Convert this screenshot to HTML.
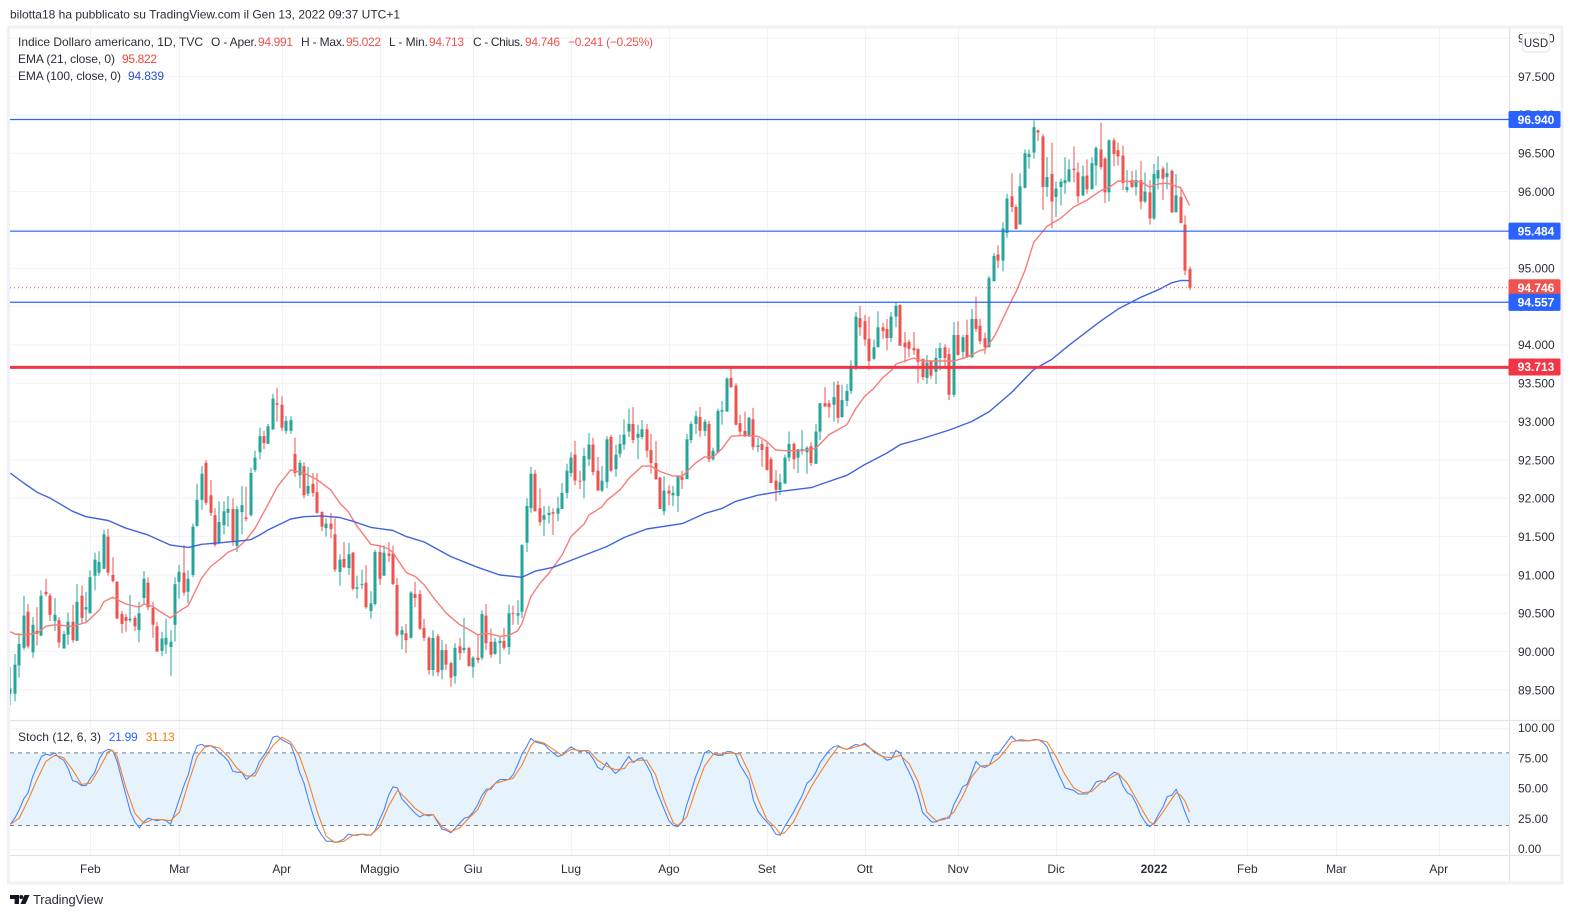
<!DOCTYPE html>
<html lang="it">
<head>
<meta charset="utf-8">
<title>Indice Dollaro americano chart</title>
<style>
html,body{margin:0;padding:0;background:#fff;width:1574px;height:918px;overflow:hidden}
svg{display:block;font-family:"Liberation Sans",sans-serif}
</style>
</head>
<body>
<svg id="chart" xmlns="http://www.w3.org/2000/svg" width="1574" height="918" viewBox="0 0 1574 918">
  <defs><clipPath id="plot-clip"><rect x="10" y="28" width="1500" height="827"/></clipPath></defs>
  <text x="10" y="18.5" font-size="12" fill="#2a2e39" textLength="390">bilotta18 ha pubblicato su TradingView.com il Gen 13, 2022 09:37 UTC+1</text>
  <rect x="8.5" y="27" width="1553.5" height="856" fill="#fff" stroke="#f0f1f6" stroke-width="3"/>
  <g id="grid"></g>
  <rect id="stoch-band" fill="#e3f2fd"/>
  <g id="stoch-lines"></g>
  <g clip-path="url(#plot-clip)">
    <g id="candles"></g>
    <polyline id="ema21" fill="none" stroke="#f77c7a" stroke-width="1.4" stroke-linejoin="round"/>
    <polyline id="ema100" fill="none" stroke="#3f64dc" stroke-width="1.4" stroke-linejoin="round"/>
    <polyline id="stoch-k" fill="none" stroke="#4a86f7" stroke-width="1.1" stroke-linejoin="round"/>
    <polyline id="stoch-d" fill="none" stroke="#f5812f" stroke-width="1.1" stroke-linejoin="round"/>
    <g id="levels"></g>
  </g>
  <line x1="10" x2="1560" y1="720.5" y2="720.5" stroke="#e0e3eb" stroke-width="1.2"/>
  <line x1="10" x2="1560" y1="855.5" y2="855.5" stroke="#e0e3eb" stroke-width="1.2"/>
  <line x1="1509.5" x2="1509.5" y1="28" y2="881" stroke="#e0e3eb" stroke-width="1.2"/>
  <g id="price-ticks" font-size="12" fill="#2a2e39"></g>
  <g id="stoch-ticks" font-size="12" fill="#2a2e39"></g>
  <g id="time-ticks" font-size="12" fill="#2a2e39" text-anchor="middle"></g>
  <g id="tags"></g>
  <g>
    <rect x="1522.5" y="33" width="27" height="19" rx="3" fill="#fff" stroke="#e0e3eb"/>
    <text x="1536" y="47" font-size="11.5" fill="#2a2e39" text-anchor="middle">USD</text>
  </g>
  <g font-size="12" fill="#2a2e39">
    <text x="18" y="46" textLength="185">Indice Dollaro americano, 1D, TVC</text>
    <text x="211" y="46" textLength="46">O - Aper.</text>
    <text x="258" y="46" fill="#ef5350" textLength="35">94.991</text>
    <text x="301" y="46" textLength="44">H - Max.</text>
    <text x="346" y="46" fill="#ef5350" textLength="35">95.022</text>
    <text x="389" y="46" textLength="39">L - Min.</text>
    <text x="429" y="46" fill="#ef5350" textLength="35">94.713</text>
    <text x="473" y="46" textLength="50">C - Chius.</text>
    <text x="525" y="46" fill="#ef5350" textLength="35">94.746</text>
    <text x="568" y="46" fill="#ef5350" textLength="85">−0.241 (−0.25%)</text>
    <text x="18" y="63" textLength="97">EMA (21, close, 0)</text>
    <text x="122" y="63" fill="#f44336" textLength="35">95.822</text>
    <text x="18" y="80" textLength="103">EMA (100, close, 0)</text>
    <text x="128" y="80" fill="#2a52d4" textLength="36">94.839</text>
    <text x="18" y="741" textLength="83">Stoch (12, 6, 3)</text>
    <text x="108.7" y="741" fill="#2962ff" textLength="29">21.99</text>
    <text x="145.7" y="741" fill="#f57c00" textLength="29">31.13</text>
  </g>
  <g fill="#131722">
    <polygon points="10,895 19,895 19,904 14.6,904 14.6,899 10,899"/>
    <circle cx="21.3" cy="897" r="2"/>
    <polygon points="24.5,895 29.5,895 25.5,904 20.5,904"/>
  </g>
  <text x="33" y="904" font-size="13" fill="#2a2e39" textLength="70">TradingView</text>
</svg>
<script>
const opens=[89.45,89.45,89.82,90.05,90.52,89.99,90.27,90.21,90.78,90.73,
90.40,90.41,90.04,90.22,90.39,90.14,90.73,90.55,90.50,90.99,
91.03,91.08,91.50,91.00,90.91,90.49,90.45,90.41,90.44,90.28,
90.70,90.90,90.57,90.33,90.01,90.09,90.06,90.35,90.91,91.03,
90.78,91.00,91.64,91.98,92.46,92.04,91.78,91.42,91.65,91.81,
91.86,91.38,91.82,91.75,91.78,92.37,92.60,92.81,92.71,92.90,
93.24,93.22,92.88,92.88,92.58,92.30,92.42,92.06,92.19,92.08,
91.82,91.61,91.67,91.53,91.04,91.21,91.09,91.29,90.82,90.87,
90.90,90.53,90.62,91.30,90.99,91.28,91.28,90.87,90.22,90.24,
90.18,90.75,90.75,90.31,90.18,89.76,90.20,89.76,90.02,89.85,
89.68,90.07,90.02,90.05,89.80,89.92,89.92,90.47,90.13,89.97,
90.11,90.14,90.06,90.50,90.47,90.52,91.42,91.87,92.32,91.87,
91.72,91.78,91.82,91.80,91.86,92.07,92.33,92.57,92.23,92.23,
92.51,92.70,92.36,92.10,92.21,92.80,92.38,92.58,92.70,92.87,
92.97,92.79,92.80,92.90,92.63,92.46,92.27,91.83,92.10,92.04,
92.03,92.28,92.25,92.76,92.97,93.06,92.88,92.97,92.51,92.60,
93.13,93.13,93.57,93.47,92.98,92.88,92.81,93.03,92.67,92.71,
92.67,92.51,92.23,92.11,92.19,92.53,92.71,92.53,92.62,92.60,
92.68,92.45,92.87,93.24,93.24,93.22,93.48,93.06,93.27,93.40,
93.70,94.35,94.31,94.08,93.82,93.97,94.23,94.21,94.09,94.37,
94.52,94.03,94.04,93.96,93.95,93.82,93.57,93.79,93.65,93.83,
93.97,93.88,93.35,94.13,93.91,94.13,93.84,94.34,94.25,94.09,
93.97,94.83,95.18,95.10,95.46,95.94,95.80,95.57,96.05,96.45,
96.51,96.80,96.72,96.06,96.23,95.93,96.06,96.11,96.13,96.30,
96.25,95.95,96.21,96.03,96.34,96.55,96.43,95.99,96.67,96.54,
96.47,96.02,96.15,96.06,96.15,95.87,95.99,95.65,96.17,96.30,
96.19,96.27,95.73,95.93,95.57,94.991];
const closes=[89.52,89.83,90.10,90.47,90.07,90.35,90.23,90.73,90.75,90.48,
90.48,90.12,90.23,90.39,90.15,90.65,90.44,90.58,90.97,91.20,
91.17,91.53,91.03,90.92,90.43,90.36,90.40,90.43,90.33,90.50,
90.95,90.58,90.35,90.00,90.17,90.18,90.13,90.88,91.04,90.77,
90.95,91.63,91.98,92.32,91.94,91.81,91.39,91.69,91.83,91.86,
91.43,91.86,91.91,91.73,92.33,92.53,92.81,92.72,92.94,93.30,
93.22,92.92,93.01,93.02,92.33,92.46,92.04,92.16,92.07,91.81,
91.63,91.67,91.60,91.07,91.20,91.10,91.27,90.82,90.84,90.88,
90.58,90.63,91.30,90.95,91.29,91.25,90.88,90.22,90.28,90.15,
90.77,90.70,90.30,90.18,89.76,90.18,89.73,90.02,89.83,89.66,
90.05,89.98,90.05,89.81,89.92,89.89,90.49,90.11,89.96,90.13,
90.14,90.05,90.50,90.49,90.50,91.39,91.90,92.32,91.83,91.69,
91.78,91.81,91.80,91.87,92.07,92.36,92.53,92.23,92.22,92.55,
92.70,92.34,92.10,92.23,92.77,92.36,92.57,92.71,92.83,92.97,
92.76,92.84,92.90,92.62,92.46,92.25,91.86,92.10,92.06,92.07,
92.29,92.24,92.77,92.97,93.07,92.88,93.00,92.51,92.62,93.14,
93.15,93.56,93.45,92.96,92.87,92.81,93.05,92.67,92.69,92.63,
92.37,92.20,92.11,92.21,92.53,92.71,92.51,92.64,92.64,92.66,
92.46,92.87,93.24,93.20,93.19,93.32,93.05,93.28,93.40,93.73,
94.37,94.23,94.07,93.79,93.97,94.23,94.18,94.09,94.37,94.51,
93.99,93.97,93.95,93.93,93.78,93.58,93.77,93.60,93.83,93.96,
93.83,93.35,94.13,93.87,94.10,93.84,94.34,94.21,94.05,93.97,
94.87,95.16,95.10,95.52,95.91,95.80,95.51,96.07,96.50,96.49,
96.84,96.77,96.06,96.19,95.87,96.04,96.13,96.15,96.29,96.28,
95.94,96.20,96.03,96.37,96.57,96.32,95.99,96.67,96.49,96.46,
96.11,96.06,96.06,96.15,95.87,96.00,95.65,96.23,96.28,96.17,
96.24,95.73,95.95,95.59,94.97,94.746];
const highs=[89.80,89.97,90.24,90.73,90.62,90.45,90.58,90.80,90.95,90.76,
90.70,90.45,90.27,90.51,90.61,90.88,90.86,90.78,91.06,91.29,
91.31,91.59,91.60,91.23,90.92,90.53,90.49,90.74,90.47,90.65,
91.05,90.97,90.65,90.39,90.26,90.43,90.28,90.97,91.13,91.39,
91.06,91.67,92.19,92.42,92.50,92.24,91.87,91.96,91.96,92.03,
92.00,91.90,92.16,92.15,92.40,92.62,92.92,92.88,92.97,93.36,
93.44,93.33,93.07,93.07,92.79,92.50,92.47,92.41,92.33,92.33,
91.83,91.74,91.81,91.74,91.27,91.43,91.42,91.30,90.99,91.07,
91.13,90.79,91.33,91.39,91.39,91.43,91.38,90.96,90.33,90.36,
90.79,90.91,90.80,90.43,90.20,90.28,90.23,90.15,90.10,89.87,
90.11,90.18,90.44,90.06,89.94,90.23,90.54,90.62,90.30,90.18,
90.19,90.31,90.61,90.60,90.67,91.40,92.00,92.41,92.37,92.13,
91.90,91.90,91.87,92.02,92.20,92.45,92.60,92.75,92.36,92.66,
92.85,92.79,92.54,92.42,92.81,92.83,92.70,92.83,93.03,93.17,
93.19,92.96,93.02,92.97,92.84,92.75,92.28,92.29,92.17,92.16,
92.30,92.36,92.84,93.00,93.14,93.19,93.03,93.01,92.66,93.17,
93.27,93.58,93.73,93.50,93.09,93.13,93.06,93.18,92.79,92.76,
92.73,92.54,92.37,92.32,92.57,92.87,92.73,92.64,92.89,92.68,
92.73,92.97,93.24,93.45,93.28,93.52,93.53,93.48,93.49,93.80,
94.43,94.51,94.39,94.37,94.07,94.44,94.29,94.34,94.43,94.55,
94.53,94.17,94.07,94.17,93.95,93.82,93.87,93.80,93.96,94.03,
94.01,93.96,94.30,94.31,94.13,94.33,94.47,94.63,94.34,94.16,
94.90,95.20,95.30,95.60,95.97,96.24,95.83,96.24,96.55,96.55,
96.93,96.81,96.75,96.45,96.64,96.13,96.17,96.45,96.42,96.59,
96.38,96.34,96.42,96.45,96.59,96.90,96.45,96.68,96.70,96.64,
96.60,96.28,96.27,96.28,96.40,96.25,96.15,96.36,96.46,96.33,
96.38,96.29,96.23,96.06,95.69,95.022];
const lows=[89.30,89.35,89.66,90.02,90.04,89.92,90.08,90.20,90.72,90.40,
90.27,90.05,90.04,90.09,90.12,90.14,90.36,90.37,90.50,90.80,
90.99,91.08,90.99,90.90,90.43,90.24,90.26,90.38,90.27,90.12,
90.62,90.54,90.18,90.00,89.94,89.97,89.68,90.13,90.69,90.73,
90.63,90.97,91.63,91.85,91.91,91.77,91.37,91.40,91.53,91.63,
91.38,91.30,91.53,91.70,91.76,92.34,92.51,92.64,92.71,92.89,
93.00,92.88,92.84,92.84,92.28,92.13,92.00,92.03,92.02,91.80,
91.57,91.50,91.48,91.04,90.86,91.09,91.00,90.80,90.69,90.82,
90.56,90.43,90.60,90.87,90.99,91.17,90.87,90.19,90.03,89.98,
90.17,90.58,90.28,90.14,89.70,89.68,89.68,89.64,89.76,89.54,
89.58,89.89,89.98,89.81,89.66,89.85,89.89,90.02,89.92,89.96,
89.84,90.02,89.96,90.35,90.35,90.44,91.30,91.81,91.83,91.64,
91.51,91.67,91.52,91.70,91.86,92.00,92.28,92.17,92.12,92.00,
92.42,92.30,92.10,92.08,92.13,92.34,92.28,92.53,92.63,92.80,
92.72,92.51,92.77,92.53,92.32,92.24,91.86,91.78,91.91,91.90,
91.82,92.12,92.25,92.72,92.84,92.80,92.81,92.47,92.49,92.60,
92.96,93.13,93.44,92.95,92.81,92.80,92.80,92.63,92.60,92.41,
92.36,92.20,91.96,92.04,92.19,92.48,92.38,92.33,92.57,92.32,
92.42,92.45,92.76,93.19,93.05,93.00,92.98,93.05,93.20,93.36,
93.67,94.12,93.99,93.67,93.80,93.97,94.08,93.93,94.04,94.23,
93.99,93.77,93.84,93.87,93.50,93.54,93.49,93.56,93.49,93.67,
93.70,93.28,93.32,93.86,93.83,93.83,93.83,94.17,94.01,93.88,
93.97,94.83,95.00,94.96,95.40,95.73,95.51,95.57,96.04,96.30,
96.43,96.66,95.76,95.93,95.52,95.67,95.82,95.97,96.12,96.12,
95.85,95.94,95.97,96.03,96.08,96.29,95.85,95.87,96.33,96.34,
96.02,95.99,96.04,95.95,95.77,95.85,95.57,95.63,96.03,95.89,
96.03,95.72,95.73,95.59,94.91,94.713];

const ema21Bars=[0,1,3,6,8,10,14,17,20,21,23,26,29,30,32,34,36,38,40,43,45,47,49,51,53,55,58,60,63,66,69,72,74,76,78,81,83,85,86,89,91,93,95,98,101,103,105,107,110,112,114,115,117,119,121,124,126,129,130,133,134,137,139,142,144,146,149,151,154,156,158,160,162,165,168,170,172,174,178,181,184,188,190,192,194,196,198,199,203,205,209,212,215,218,219,221,222,225,226,228,230,231,233,236,239,242,245,247,249,252,254,256,258,260,263,265];
const ema21Values=[90.26,90.23,90.22,90.24,90.33,90.35,90.33,90.38,90.54,90.65,90.71,90.62,90.58,90.62,90.59,90.51,90.44,90.53,90.60,90.96,91.11,91.20,91.30,91.35,91.46,91.61,91.93,92.15,92.37,92.33,92.24,92.11,91.94,91.82,91.63,91.40,91.38,91.34,91.29,91.03,90.98,90.87,90.71,90.50,90.35,90.29,90.22,90.24,90.20,90.21,90.27,90.37,90.72,90.89,91.02,91.26,91.50,91.67,91.78,91.89,91.97,92.11,92.26,92.42,92.42,92.35,92.29,92.29,92.46,92.54,92.54,92.65,92.81,92.82,92.81,92.74,92.63,92.62,92.62,92.65,92.83,92.96,93.17,93.33,93.43,93.57,93.67,93.75,93.83,93.79,93.79,93.79,93.84,93.93,93.94,94.10,94.21,94.58,94.69,94.97,95.34,95.41,95.55,95.65,95.80,95.89,96.01,96.06,96.14,96.13,96.13,96.06,96.10,96.11,96.05,95.822];
const ema100Bars=[0,3,6,9,14,17,22,26,31,36,40,43,47,51,54,56,58,63,66,70,74,77,81,86,89,93,99,105,110,115,118,122,126,130,134,138,143,151,156,160,163,168,173,180,184,188,192,197,200,205,211,216,220,225,230,234,238,245,249,254,258,261,263,265];
const ema100Values=[92.33,92.20,92.08,92.00,91.83,91.76,91.71,91.61,91.52,91.39,91.36,91.40,91.42,91.44,91.46,91.52,91.59,91.73,91.76,91.77,91.75,91.70,91.62,91.58,91.50,91.43,91.24,91.10,91.00,90.97,91.05,91.10,91.19,91.28,91.37,91.49,91.60,91.67,91.80,91.87,91.96,92.04,92.09,92.14,92.22,92.30,92.44,92.59,92.70,92.78,92.89,93.00,93.13,93.38,93.68,93.81,94.00,94.31,94.47,94.62,94.72,94.81,94.84,94.839];

const stochK=[21,26,33,42,47,60,69,77,79,78,
80,76,74,67,57,56,53,53,59,64,
75,81,83,82,73,59,45,31,23,18,
23,26,25,24,25,24,21,31,42,53,
62,77,86,87,85,86,84,80,77,73,
65,64,64,58,61,64,73,78,84,93,
94,91,89,87,77,64,55,41,29,18,
12,7,7,6,7,9,13,12,12,13,
12,12,16,25,33,45,52,51,42,38,
34,30,27,29,28,29,23,17,16,14,
18,22,26,27,31,37,45,50,50,55,
58,58,58,62,70,79,85,92,89,88,
87,83,80,77,78,82,85,83,81,82,
80,75,68,66,72,67,63,66,72,77,
72,75,76,70,63,51,42,33,24,20,
19,23,37,48,60,69,80,82,79,78,
78,81,81,79,70,64,58,41,32,27,
23,19,13,12,19,25,31,38,45,55,
58,64,72,77,82,85,86,84,83,85,
87,86,88,85,81,79,77,74,75,82,
80,71,64,56,45,31,27,23,23,25,
26,26,37,44,52,54,63,73,69,68,
70,78,79,84,89,94,90,90,90,90,
91,91,89,85,75,67,59,51,50,49,
46,46,46,50,56,57,56,61,64,63,
53,47,45,38,29,23,19,22,29,35,
44,45,50,41,31,21.99];
const stochDBars=[0,2,4,6,8,10,12,14,16,18,20,22,23,24,26,28,30,32,34,36,38,40,42,44,45,47,49,51,53,55,57,59,61,63,65,67,69,71,73,75,77,79,81,83,85,87,89,91,93,95,97,99,101,103,105,107,109,111,113,115,117,118,120,122,124,126,128,130,132,134,136,138,139,141,143,145,147,149,150,152,154,156,158,160,162,164,166,168,170,172,173,174,176,178,180,182,184,186,188,190,192,194,196,198,200,202,204,206,208,210,212,214,216,218,220,222,224,225,227,229,231,233,235,237,239,241,243,245,247,249,251,253,255,256,257,259,261,262,263,264,265];
const stochDValues=[21,26,41,58,73,78,76,66,54,55,67,81,82,77,51,30,22,25,25,24,31,55,77,86,86,84,77,67,61,61,75,86,93,89,77,56,31,11,6,7,12,13,12,19,36,49,42,34,29,29,19,15,18,26,33,48,55,57,59,70,86,90,88,83,78,83,82,82,74,69,66,67,72,74,74,62,40,22,20,27,49,69,79,79,80,79,64,42,25,18,13,14,23,38,52,64,75,85,83,85,87,82,77,76,78,71,56,31,24,25,31,44,60,69,70,75,84,89,91,90,91,89,77,62,51,47,48,55,59,63,55,42,29,23,21,31,42,47,45,40,31.13];

const priceTicks=[98,97.5,97,96.5,96,95.5,95,94.5,94,93.5,93,92.5,92,91.5,91,90.5,90,89.5];
const stochTicks=[100,75,50,25,0];
const stochLevels=[80,20];
const monthLabels=["Feb","Mar","Apr","Maggio","Giu","Lug","Ago","Set","Ott","Nov","Dic","2022","Feb","Mar","Apr"];
const monthBars=[18,38,61,83,104,126,148,170,192,213,235,257,278,298,321];
const blueLevels=[96.940,95.484,94.557];
const redLevel=93.713;
const lastClose=94.746;

const NS='http://www.w3.org/2000/svg';
const barX=i=>10.3+4.45*i;
const priceY=p=>76.6+(97.5-p)*76.67;
const stochY=v=>849.7-v*1.21;
const $=id=>document.getElementById(id);
function mk(parent,tag,attrs,text){
  const e=document.createElementNS(NS,tag);
  for(const k in attrs)e.setAttribute(k,attrs[k]);
  if(text!==undefined)e.textContent=text;
  parent.appendChild(e);
  return e;
}
const GRID='#f1f2f5';
monthBars.forEach(b=>{
  const x=Math.round(barX(b))+0.5;
  const l=mk($('grid'),'line',{x1:x,x2:x,y1:28,y2:855,stroke:GRID});
  
  
});
priceTicks.forEach(p=>{
  const y=priceY(p);
  const l=mk($('grid'),'line',{x1:10,x2:1509,y1:y,y2:y,stroke:GRID});
  
  
  const t=mk($('price-ticks'),'text',{x:1518,y:y+4.3},p.toFixed(3));
  
  
});
stochTicks.forEach(v=>{
  const y=stochY(v);
  const l=mk($('grid'),'line',{x1:10,x2:1509,y1:y,y2:y,stroke:GRID});
  
  
  const t=mk($('stoch-ticks'),'text',{x:1518,y:y+3.5},v.toFixed(2));
  
  
});
monthLabels.forEach((m,k)=>{
  const attrs={x:barX(monthBars[k]),y:873};
  if(m==='2022')attrs['font-weight']='bold';
  const t=mk($('time-ticks'),'text',attrs,m);
  
  
});
const band=$('stoch-band');
band.setAttribute('x',10);
band.setAttribute('width',1499.5);
band.setAttribute('y',stochY(stochLevels[0]));
band.setAttribute('height',stochY(stochLevels[1])-stochY(stochLevels[0]));
band.setAttribute('fill-opacity',0.9);
stochLevels.forEach(v=>{
  const l=mk($('stoch-lines'),'line',{x1:10,x2:1509,y1:stochY(v),y2:stochY(v),stroke:'#787b86','stroke-dasharray':'4 4'});
  
  
});
const UP='#26a69a',DOWN='#ef5350';
opens.forEach((o,i)=>{
  const c=closes[i],col=c>=o?UP:DOWN;
  const cx=Math.round(barX(i));
  const g=mk($('candles'),'g',{fill:col});
  
  
  mk(g,'rect',{x:cx-0.5,width:1,y:priceY(highs[i]),height:Math.max(0.5,priceY(lows[i])-priceY(highs[i]))});
  const top=priceY(Math.max(o,c)),bot=priceY(Math.min(o,c));
  mk(g,'rect',{x:cx-1.5,width:3,y:top,height:Math.max(1,bot-top)});
});
$('ema21').setAttribute('points',ema21Bars.map((b,k)=>barX(b).toFixed(1)+','+priceY(ema21Values[k]).toFixed(1)).join(' '));
$('ema100').setAttribute('points',ema100Bars.map((b,k)=>barX(b).toFixed(1)+','+priceY(ema100Values[k]).toFixed(1)).join(' '));
$('stoch-k').setAttribute('points',stochK.map((v,i)=>barX(i).toFixed(1)+','+stochY(v).toFixed(1)).join(' '));
$('stoch-d').setAttribute('points',stochDBars.map((b,k)=>barX(b).toFixed(1)+','+stochY(stochDValues[k]).toFixed(1)).join(' '));

const lastLine=mk($('levels'),'line',{x1:10,x2:1509,y1:priceY(lastClose),y2:priceY(lastClose),stroke:'#ef5350','stroke-dasharray':'1 3'});


blueLevels.forEach(p=>{
  const l=mk($('levels'),'line',{x1:10,x2:1509,y1:priceY(p),y2:priceY(p),stroke:'#2962ff','stroke-width':1.2});
  
  
});
const redLine=mk($('levels'),'line',{x1:10,x2:1509,y1:priceY(redLevel)+0.4,y2:priceY(redLevel)+0.4,stroke:'#f23645','stroke-width':3});



function tag(p,color,name){
  const y=priceY(p);
  const g=mk($('tags'),'g',{});
  
  
  mk(g,'rect',{x:1508.5,y:y-8.5,width:52,height:17,rx:1.5,fill:color});
  mk(g,'text',{x:1536,y:y+4.3,'font-size':12,'font-weight':'bold',fill:'#fff','text-anchor':'middle'},p.toFixed(3));
}
blueLevels.forEach(p=>tag(p,'#2962ff','level-price-tag'));
tag(lastClose,'#ef5350','last-price-tag');
tag(blueLevels[2],'#2962ff','level-price-tag');
tag(redLevel,'#f23645','key-level-tag');
</script>
</body>
</html>
